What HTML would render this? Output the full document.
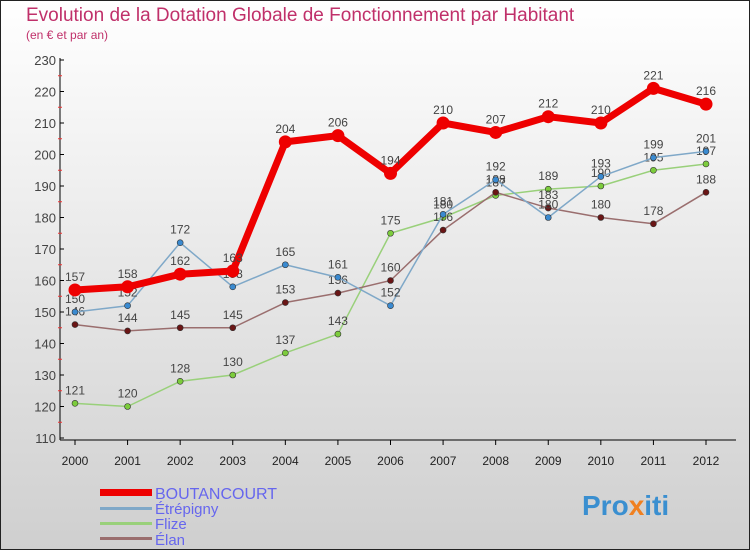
<!DOCTYPE html>
<html><head><meta charset="utf-8"><style>
body{margin:0;}
svg{display:block;font-family:"Liberation Sans",sans-serif;}
</style></head><body>
<svg width="750" height="550" xmlns="http://www.w3.org/2000/svg">
<defs><linearGradient id="bg" x1="0" y1="0" x2="0" y2="1"><stop offset="0" stop-color="#ffffff"/><stop offset="1" stop-color="#cfcfcf"/></linearGradient></defs>
<rect x="0.5" y="0.5" width="749" height="549" fill="url(#bg)" stroke="#222"/>
<text x="26" y="21" font-size="19" fill="#c0306a">Evolution de la Dotation Globale de Fonctionnement par Habitant</text>
<text x="26" y="39" font-size="12" fill="#c0306a">(en € et par an)</text>
<g id="axes"></g>
<g id="series"></g>
<g>
<rect x="100" y="489" width="52" height="7" fill="#ee0000"/><text x="155" y="499" font-size="16" fill="#6666ee">BOUTANCOURT</text>
<rect x="100" y="507" width="52" height="3" fill="#7fa8c8"/><text x="155" y="514" font-size="15" fill="#6666ee">Étrépigny</text>
<rect x="100" y="522" width="52" height="3" fill="#99d07a"/><text x="155" y="529" font-size="15" fill="#6666ee">Flize</text>
<rect x="100" y="537" width="52" height="3" fill="#9a6e6e"/><text x="155" y="545" font-size="15" fill="#6666ee">Élan</text>
</g>
<text x="582" y="515" font-size="28" font-weight="bold" fill="#3a8fd0">Pro<tspan fill="#f08020">x</tspan>iti</text>
</svg>
<script>
const years=[2000,2001,2002,2003,2004,2005,2006,2007,2008,2009,2010,2011,2012];
const yTicks=[110,120,130,140,150,160,170,180,190,200,210,220,230];
const boutancourt=[157,158,162,163,204,206,194,210,207,212,210,221,216];
const etrepigny=[150,152,172,158,165,161,152,181,192,180,193,199,201];
const flize=[121,120,128,130,137,143,175,180,187,189,190,195,197];
const elan=[146,144,145,145,153,156,160,176,188,183,180,178,188];
const NS="http://www.w3.org/2000/svg";
const xs=i=>75+i*(631/12);
const ys=v=>60+(230-v)*3.15;
function mk(t,a,p){const e=document.createElementNS(NS,t);for(const k in a)e.setAttribute(k,a[k]);p.appendChild(e);return e;}
const ax=document.getElementById('axes');
let l=mk('line',{x1:60,y1:58,x2:60,y2:440,stroke:'#000'},ax);


l=mk('line',{x1:60,y1:440,x2:736,y2:440,stroke:'#000'},ax);


yTicks.forEach(v=>{const y=ys(v);
mk('line',{x1:60,y1:y,x2:64,y2:y,stroke:'#000'},ax);
if(v<230)mk('line',{x1:58,y1:y-15.75,x2:62,y2:y-15.75,stroke:'#e33'},ax);
const t=mk('text',{x:56,y:y+5,'font-size':13,'text-anchor':'end',fill:'#444'},ax);t.textContent=v;

});
years.forEach((yr,i)=>{const x=xs(i);
mk('line',{x1:x,y1:440,x2:x,y2:445,stroke:'#000'},ax);
const t=mk('text',{x:x,y:465,'font-size':12,'text-anchor':'middle',fill:'#222'},ax);t.textContent=yr;

});
const sg=document.getElementById('series');
function draw(data,color,w,r,dot,name){
const g=mk('g',{},sg);


mk('polyline',{points:data.map((v,i)=>xs(i)+','+ys(v)).join(' '),fill:'none',stroke:color,'stroke-width':w,'stroke-linejoin':'round'},g);
data.forEach((v,i)=>{mk('circle',{cx:xs(i),cy:ys(v),r:r,fill:dot,stroke:'#333','stroke-width':r>4?0:0.6},g);
const t=mk('text',{x:xs(i),y:ys(v)-9,'font-size':12,'text-anchor':'middle',fill:'#444'},g);t.textContent=v;});}
draw(flize,'#99d07a',1.5,3,'#7ccc3c','series-flize');
draw(elan,'#9a6e6e',1.5,3,'#6a1515','series-elan');
draw(etrepigny,'#7fa8c8',1.5,3,'#3a8ad0','series-etrepigny');
draw(boutancourt,'#ee0000',7,6.5,'#ee0000','series-boutancourt');
</script>
</body></html>
